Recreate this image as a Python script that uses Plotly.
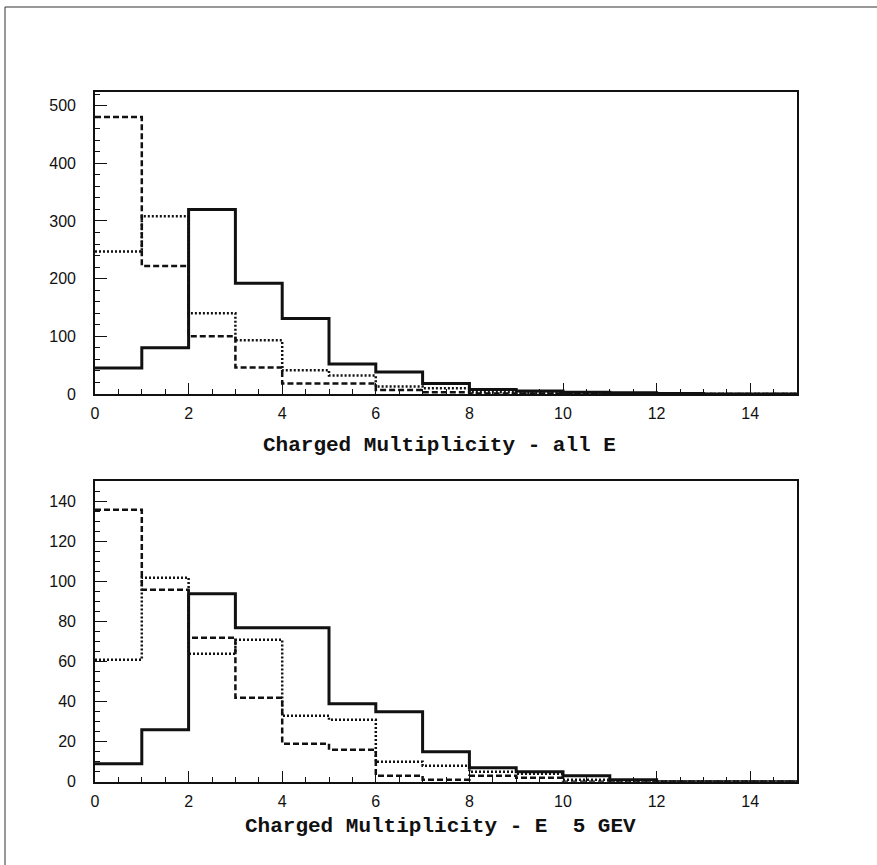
import plotly.graph_objects as go

# Bin edges 0..15 (charged multiplicity)
bin_edges = list(range(16))

# Top panel: Charged Multiplicity - all E
top_solid = [45, 80, 320, 192, 131, 52, 38, 18, 8, 5, 3, 2, 1, 0, 0]
top_dashed = [480, 222, 100, 46, 18, 18, 7, 3, 1, 1, 0, 0, 0, 0, 0]
top_dotted = [247, 308, 140, 93, 41, 32, 13, 10, 3, 2, 1, 0, 0, 0, 0]

# Bottom panel: Charged Multiplicity - E 5 GEV
bot_solid = [9, 26, 94, 77, 77, 39, 35, 15, 7, 5, 3, 1, 0, 0, 0]
bot_dashed = [136, 96, 72, 42, 19, 16, 3, 1, 3, 2, 0, 0, 0, 0, 0]
bot_dotted = [61, 102, 64, 71, 33, 31, 10, 8, 5, 4, 1, 0, 0, 0, 0]

x_tickvals = [0, 2, 4, 6, 8, 10, 12, 14]
top_yticks = [0, 100, 200, 300, 400, 500]
bot_yticks = [0, 20, 40, 60, 80, 100, 120, 140]

titles = ["Charged Multiplicity - all E", "Charged Multiplicity - E  5 GEV"]

W, H = 877, 865

def step(vals):
    return vals + [vals[-1]]

fig = go.Figure()

styles = [
    dict(color="#111", width=3, dash="solid"),
    dict(color="#111", width=2.5, dash="6px,3px"),
    dict(color="#111", width=2.5, dash="2px,2px"),
]

for axis_idx, series in [(1, [top_solid, top_dashed, top_dotted]),
                         (2, [bot_solid, bot_dashed, bot_dotted])]:
    for s, st in zip(series, styles):
        fig.add_trace(go.Scatter(
            x=bin_edges, y=step(s), mode="lines", line_shape="hv",
            line=st, xaxis="x" if axis_idx == 1 else "x2",
            yaxis="y" if axis_idx == 1 else "y2", showlegend=False,
            hoverinfo="skip"))

xdom = [95 / W, 797 / W]
top_dom = [1 - 394 / H, 1 - 91.7 / H]
bot_dom = [1 - 781.7 / H, 1 - 480.7 / H]

tickfont = dict(family="Liberation Sans, Arial, sans-serif", size=16, color="#111")

def xaxis(anchor, dom):
    return dict(domain=xdom, anchor=anchor, range=[0, 15], tickvals=x_tickvals,
                ticks="inside", ticklen=11, tickwidth=1.3, tickcolor="#111",
                minor=dict(dtick=0.5, tick0=0, ticks="inside", ticklen=5,
                           tickwidth=1.2, tickcolor="#111"),
                showline=True, linecolor="#111", linewidth=1.6, mirror=True,
                showgrid=False, zeroline=False, tickfont=tickfont,
                ticklabelstandoff=4, automargin=False)

def yaxis(anchor, dom, rng, tv, minor_dt):
    return dict(domain=dom, anchor=anchor, range=rng, tickvals=tv,
                ticks="inside", ticklen=12, tickwidth=1.3, tickcolor="#111",
                minor=dict(dtick=minor_dt, tick0=0, ticks="inside", ticklen=5,
                           tickwidth=1.2, tickcolor="#111"),
                showline=True, linecolor="#111", linewidth=1.6, mirror=True,
                showgrid=False, zeroline=False, tickfont=tickfont,
                ticklabelstandoff=14, automargin=False)

fig.update_layout(
    width=W, height=H,
    margin=dict(l=0, r=0, t=0, b=0),
    paper_bgcolor="white", plot_bgcolor="white",
    template="none",
    xaxis=xaxis("y", top_dom),
    yaxis=yaxis("x", top_dom, [0, 524], top_yticks, 20),
    xaxis2=xaxis("y2", bot_dom),
    yaxis2=yaxis("x2", bot_dom, [0, 150.5], bot_yticks, 5),
    annotations=[
        dict(text="<b>" + titles[0] + "</b>", x=439 / W, y=1 - 445 / H,
             xref="paper", yref="paper", showarrow=False,
             font=dict(family="Liberation Mono, Courier New, monospace", size=21, color="#111")),
        dict(text="<b>" + titles[1] + "</b>", x=440 / W, y=1 - 840 / H,
             xref="paper", yref="paper", showarrow=False,
             font=dict(family="Liberation Mono, Courier New, monospace", size=21, color="#111")),
    ],
    shapes=[
        dict(type="line", xref="paper", yref="paper", x0=5 / W, x1=1, y0=1 - 7 / H, y1=1 - 7 / H,
             line=dict(color="#333", width=1)),
        dict(type="line", xref="paper", yref="paper", x0=5 / W, x1=5 / W, y0=0, y1=1 - 7 / H,
             line=dict(color="#333", width=1)),
    ],
)

fig.write_html("out.html", config={"displayModeBar": False},
               post_script="document.body.style.margin='0';document.body.style.overflow='hidden';")
